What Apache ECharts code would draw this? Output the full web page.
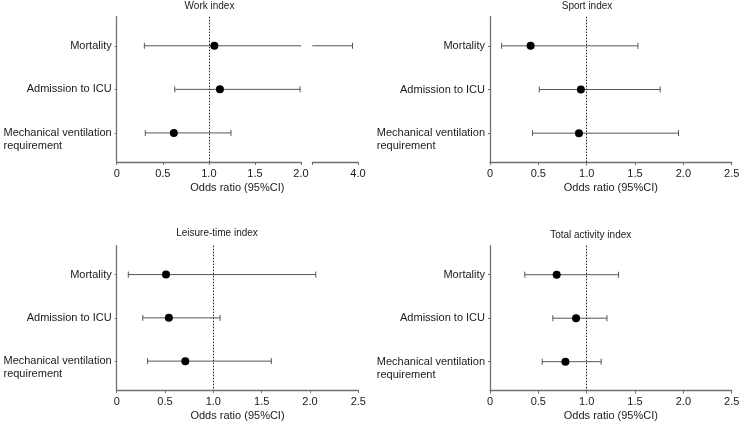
<!DOCTYPE html>
<html><head><meta charset="utf-8">
<script src="https://cdn.jsdelivr.net/npm/echarts@6/dist/echarts.min.js"></script>
<style>html,body{margin:0;padding:0;background:#fff}#c{width:740px;height:425px}</style>
</head><body><div id="c"></div>
<script>
const categories = ['Mortality', 'Admission to ICU', 'Mechanical ventilation\nrequirement'];
const panelTitles = ['Work index', 'Sport index', 'Leisure-time index', 'Total activity index'];
const xAxisName = 'Odds ratio (95%CI)';
const refLine = 1.0;

const workOR = [1.06, 1.12, 0.62];
const workLow = [0.30, 0.63, 0.31];
const workHigh = [3.88, 1.99, 1.24];

const sportOR = [0.42, 0.94, 0.92];
const sportLow = [0.12, 0.51, 0.44];
const sportHigh = [1.53, 1.76, 1.95];

const leisureOR = [0.51, 0.54, 0.71];
const leisureLow = [0.12, 0.27, 0.32];
const leisureHigh = [2.06, 1.07, 1.60];

const totalOR = [0.69, 0.89, 0.78];
const totalLow = [0.36, 0.65, 0.54];
const totalHigh = [1.33, 1.21, 1.15];

const FONT = '"Liberation Sans", Arial, sans-serif';
const TXT = '#1a1a1a';
const AX = '#707070';
const BAR = '#555';

const grids = [
  {left: 116.7, top: 16.7, width: 184.3, height: 145.3},
  {left: 312.3, top: 16.7, width: 45.7, height: 145.3},
  {left: 490, top: 16.7, width: 241.7, height: 145.6},
  {left: 116.7, top: 245.7, width: 241.6, height: 144.3},
  {left: 490, top: 245.7, width: 241.7, height: 145}
].map(g => Object.assign({outerBoundsMode: 'none', containLabel: false}, g));

function fmtCat(v) {
  const name = categories[Math.round(v)];
  if (name === undefined) return '';
  const lines = name.split('\n');
  if (lines.length === 1) return name;
  return '{m|' + lines[0] + '}\n{r|' + lines[1] + '}';
}

function yAxisFor(gi, show) {
  return {
    type: 'value', gridIndex: gi, min: -0.667, max: 2.667, inverse: true, show: show,
    axisLine: {show: true, lineStyle: {color: AX, width: 1.3}},
    axisTick: {show: true, length: 2, customValues: [0, 1, 2], lineStyle: {color: AX}},
    axisLabel: {
      customValues: [0, 1, 2], formatter: fmtCat, margin: 5, fontSize: 11, color: TXT, fontFamily: FONT,
      rich: {
        m: {fontSize: 11, color: TXT, fontFamily: FONT, padding: [13, 0, 0, 0], lineHeight: 26, align: 'left'},
        r: {fontSize: 11, color: TXT, fontFamily: FONT, lineHeight: 13, align: 'left'}
      }
    },
    splitLine: {show: false}
  };
}

function xAxisFor(gi, min, max, interval, fmt, name, namePad) {
  return {
    type: 'value', gridIndex: gi, min: min, max: max, interval: interval,
    axisLine: {show: true, onZero: false, lineStyle: {color: AX, width: 1.3}},
    axisTick: {show: true, length: 3, lineStyle: {color: AX}},
    axisLabel: {formatter: fmt, fontSize: 11, color: TXT, fontFamily: FONT, margin: 6},
    splitLine: {show: false},
    name: name, nameLocation: 'middle', nameGap: 20,
    nameTextStyle: {fontSize: 11, color: TXT, fontFamily: FONT, padding: namePad || 0}
  };
}

const mainFmt = v => (v === 0 ? '0' : v.toFixed(1));

function ciRender(params, api) {
  const cs = params.coordSys;
  const y = api.value(0), lo = api.value(1), hi = api.value(2);
  const a = api.coord([lo, y]);
  const b = api.coord([hi, y]);
  const left = cs.x, right = cs.x + cs.width;
  if (b[0] < left - 0.5 || a[0] > right + 0.5) return null;
  const x1 = Math.max(a[0], left), x2 = Math.min(b[0], right);
  const yy = a[1];
  const st = {stroke: BAR, lineWidth: 1};
  const children = [{type: 'line', shape: {x1: x1, y1: yy, x2: x2, y2: yy}, style: st}];
  const cap = 3;
  if (a[0] >= left - 0.5) children.push({type: 'line', shape: {x1: a[0], y1: yy - cap, x2: a[0], y2: yy + cap}, style: st});
  if (b[0] <= right + 0.5) children.push({type: 'line', shape: {x1: b[0], y1: yy - cap, x2: b[0], y2: yy + cap}, style: st});
  return {type: 'group', children: children};
}

function ciData(lo, hi) { return categories.map((c, i) => [i, lo[i], hi[i]]); }
function ptData(or) { return categories.map((c, i) => [or[i], i]); }

function ciSeries(gi, lo, hi) {
  return {type: 'custom', xAxisIndex: gi, yAxisIndex: gi, renderItem: ciRender, clip: false,
    encode: {x: [1, 2], y: 0}, data: ciData(lo, hi), z: 2, silent: true};
}
function ptSeries(gi, or) {
  return {type: 'scatter', xAxisIndex: gi, yAxisIndex: gi, data: ptData(or), symbol: 'circle', symbolSize: 8,
    itemStyle: {color: '#000', opacity: 1}, z: 5, silent: true,
    markLine: {silent: true, symbol: ['none', 'none'], label: {show: false},
      lineStyle: {type: [1.5, 1.5], color: '#222', width: 1}, data: [{xAxis: refLine}]}};
}

const titleText = (t, x, y) => ({type: 'text', x: x, y: y,
  style: {text: t, fill: TXT, font: '10px ' + FONT, align: 'center', verticalAlign: 'middle'}});

const option = {
  animation: false,
  backgroundColor: '#fff',
  grid: grids,
  xAxis: [
    xAxisFor(0, 0, 2, 0.5, mainFmt, xAxisName, [0, 0, 0, 57]),
    xAxisFor(1, 3, 4, 1, v => (v === 4 ? '4.0' : ''), ''),
    xAxisFor(2, 0, 2.5, 0.5, mainFmt, xAxisName),
    xAxisFor(3, 0, 2.5, 0.5, mainFmt, xAxisName),
    xAxisFor(4, 0, 2.5, 0.5, mainFmt, xAxisName)
  ],
  yAxis: [yAxisFor(0, true), yAxisFor(1, false), yAxisFor(2, true), yAxisFor(3, true), yAxisFor(4, true)],
  graphic: [
    titleText(panelTitles[0], 209.5, 6),
    titleText(panelTitles[1], 587, 6),
    titleText(panelTitles[2], 217, 233.5),
    titleText(panelTitles[3], 590.7, 235)
  ],
  series: [
    ciSeries(0, workLow, workHigh), ptSeries(0, workOR),
    ciSeries(1, workLow, workHigh),
    ciSeries(2, sportLow, sportHigh), ptSeries(2, sportOR),
    ciSeries(3, leisureLow, leisureHigh), ptSeries(3, leisureOR),
    ciSeries(4, totalLow, totalHigh), ptSeries(4, totalOR)
  ]
};

const chart = echarts.init(document.getElementById('c'), null, {renderer: 'canvas'});
chart.setOption(option);
</script>
</body></html>
